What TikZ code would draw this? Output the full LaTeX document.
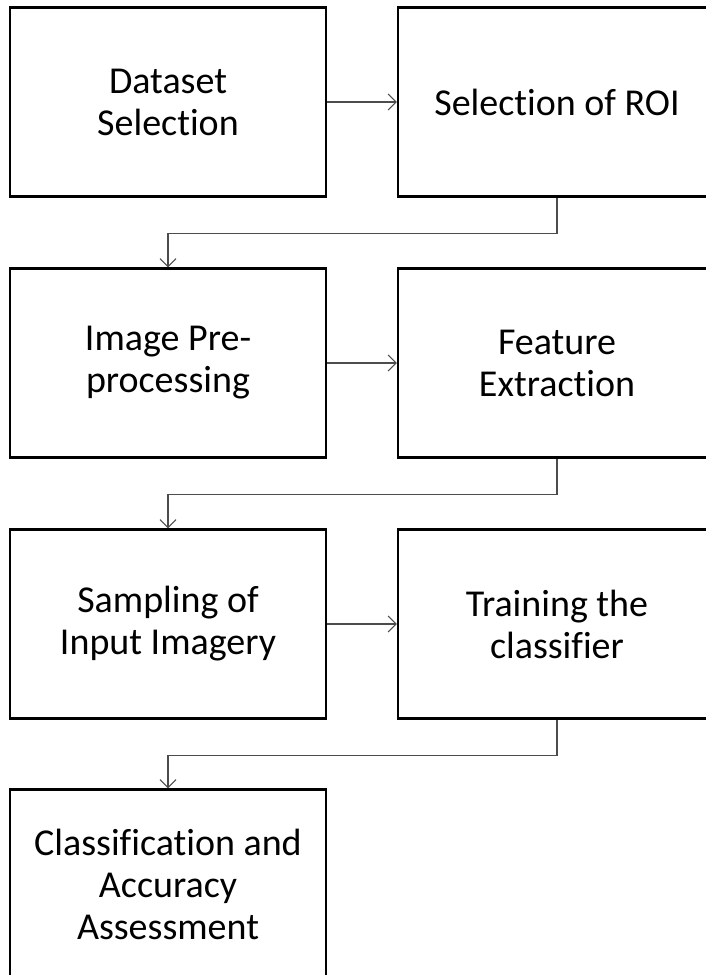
\documentclass[tikz,border=0pt]{standalone}
\usepackage{fontspec}
\setmainfont[RawFeature={-liga;-clig;-dlig}]{Carlito}
\usetikzlibrary{arrows.meta}

\tikzset{
   stage/.style={draw, line width=2.2pt, minimum width=316pt, minimum height=189pt,
      inner sep=0pt, align=center, font=\fontsize{38}{42}\selectfont},
   link/.style={line width=1.1pt, draw=black!70,
      -{Straight Barb[length=8pt, width=16pt, line width=1.1pt]}}
}

\begin{document}
\begin{tikzpicture}[x=1pt, y=-1pt]
   \clip (0,0) rectangle (706,975);
   % Left column
   \node[stage] (dataset) at (168,102) {Dataset\\Selection};
   \node[stage] (preproc) at (168,363) {Image Pre-\\processing};
   \node[stage] (sampling) at (168,624) {Sampling of\\Input Imagery};
   \node[stage] (classify) at (168,884) {Classification and\\Accuracy\\Assessment};
   % Right column
   \node[stage, minimum width=318pt] (roi) at (557,102) {Selection of ROI};
   \node[stage, minimum width=318pt] (feature) at (557,363) {Feature\\Extraction};
   \node[stage, minimum width=318pt] (training) at (557,624) {Training the\\classifier};

   % Links across each row
   \draw[link] (dataset) -- (roi);
   \draw[link] (preproc) -- (feature);
   \draw[link] (sampling) -- (training);

   % Links down to the next row
   \draw[link] (roi.south) -- ++(0,-36pt) -| (preproc.north);
   \draw[link] (feature.south) -- ++(0,-36pt) -| (sampling.north);
   \draw[link] (training.south) -- ++(0,-36pt) -| (classify.north);
\end{tikzpicture}
\end{document}
